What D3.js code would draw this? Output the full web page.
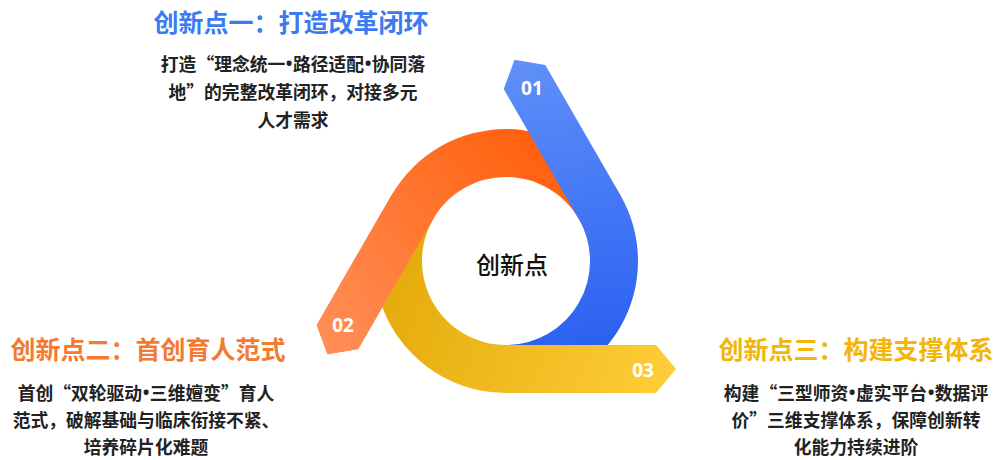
<!DOCTYPE html>
<html><head><meta charset="utf-8">
<script src="https://cdn.jsdelivr.net/npm/d3@7"></script>
<style>
html,body{margin:0;padding:0;background:#fff;}
svg{display:block;font-family:"Noto Sans CJK SC","Noto Sans",sans-serif;}
</style></head>
<body><svg id="chart" width="999" height="460"></svg>
<script>
// ---- data ----
const labels = ["01", "02", "03"];
const titles = ["创新点一：打造改革闭环", "创新点二：首创育人范式", "创新点三：构建支撑体系"];
const desc1 = ["打造“理念统一•路径适配•协同落", "地”的完整改革闭环，对接多元", "人才需求"];
const desc2 = ["首创“双轮驱动•三维嬗变”育人", "范式，破解基础与临床衔接不紧、", "培养碎片化难题"];
const desc3 = ["构建“三型师资•虚实平台•数据评", "价”三维支撑体系，保障创新转", "化能力持续进阶"];
const descriptions = [desc1, desc2, desc3];
const centerLabel = "创新点";

// ---- styles ----
const darkColors = ["#2B60F1", "#FF600E", "#E4AB0B"];
const lightColors = ["#5F90FA", "#FF8F58", "#FFCD38"];
const titleColors = ["#3B7BF1", "#F47A30", "#F2B50A"];

const svg = d3.select("#chart");
const cx = 506, cy = 261, rIn = 84, rOut = 132, L = 150, tipLen = 20;

// tangent angle (degrees) per arrow index
const angle = d3.scaleLinear().domain([0, 1, 2]).range([-30, -150, -270]);
const rad = d3.scaleLinear().domain([0, 360]).range([0, 2 * Math.PI]);

function geom(i) {
  const te = rad(angle(i));
  const ts = te + rad(120);
  const n = [Math.cos(te), Math.sin(te)];
  const d = [Math.sin(te), -Math.cos(te)];
  const P = (u, s) => [cx + n[0] * u + d[0] * s, cy + n[1] * u + d[1] * s];
  return {te, ts, n, d, P};
}

const defs = svg.append("defs");
[0, 1, 2].forEach(i => {
  const g = geom(i);
  const a = g.te + rad(90);
  const rm = (rIn + rOut) / 2;
  const start = [cx + rm * Math.cos(a), cy + rm * Math.sin(a)];
  const end = g.P(rm, L + tipLen);
  const lg = defs.append("linearGradient").attr("id", "grad" + i)
    .attr("gradientUnits", "userSpaceOnUse")
    .attr("x1", start[0]).attr("y1", start[1]).attr("x2", end[0]).attr("y2", end[1]);
  lg.append("stop").attr("offset", "0%").attr("stop-color", darkColors[i]);
  lg.append("stop").attr("offset", "100%").attr("stop-color", lightColors[i]);
});

function fullPath(i) {
  const g = geom(i);
  const p = d3.path();
  p.moveTo(cx + rOut * Math.cos(g.ts), cy + rOut * Math.sin(g.ts));
  p.arc(cx, cy, rOut, g.ts, g.te, true);
  const oc = g.P(rOut, L), tip = g.P((rIn + rOut) / 2, L + tipLen), ic = g.P(rIn, L), it = g.P(rIn, 0);
  p.lineTo(oc[0], oc[1]);
  p.lineTo(tip[0], tip[1]);
  p.lineTo(ic[0], ic[1]);
  p.lineTo(it[0], it[1]);
  p.arc(cx, cy, rIn, g.te, g.ts, false);
  p.closePath();
  return p.toString();
}
function straightPath(i) {
  const g = geom(i);
  const p = d3.path();
  const a = g.P(rOut, -2), oc = g.P(rOut, L), tip = g.P((rIn + rOut) / 2, L + tipLen), ic = g.P(rIn, L), b = g.P(rIn, -2);
  p.moveTo(a[0], a[1]); p.lineTo(oc[0], oc[1]); p.lineTo(tip[0], tip[1]);
  p.lineTo(ic[0], ic[1]); p.lineTo(b[0], b[1]); p.closePath();
  return p.toString();
}

const shapes = svg.append("g");
[1, 0, 2].forEach(i => {
  shapes.append("path").attr("d", fullPath(i)).attr("fill", `url(#grad${i})`);
});
shapes.append("path").attr("d", straightPath(1)).attr("fill", "url(#grad1)");

// number labels
labels.forEach((t, i) => {
  const g = geom(i);
  const pos = g.P((rIn + rOut) / 2 + 1, 137);
  svg.append("text").attr("x", pos[0]).attr("y", pos[1])
    .attr("text-anchor", "middle").attr("dominant-baseline", "central")
    .attr("fill", "#fff").attr("font-family", "'Open Sans','Noto Sans',sans-serif")
    .attr("font-weight", 700).attr("font-size", 19).text(t);
});

// center text
svg.append("text").attr("x", 512).attr("y", 263)
  .attr("text-anchor", "middle").attr("dominant-baseline", "central")
  .attr("fill", "#111").attr("font-size", 24).attr("font-weight", 500).text(centerLabel);

// text blocks
const blockX = [293, 146, 856];
const titleY = [21, 348, 348];
const lineY = [[63, 91, 119], [392, 419, 446], [392, 419, 446]];
titles.forEach((t, i) => {
  svg.append("text").attr("x", blockX[i] - (i === 0 ? 2 : 0) + (i === 1 ? 2 : 0)).attr("y", titleY[i])
    .attr("text-anchor", "middle").attr("dominant-baseline", "central")
    .attr("fill", titleColors[i]).attr("font-size", 25).attr("font-weight", 700).text(t);
  descriptions[i].forEach((line, j) => {
    const txt = svg.append("text").attr("x", blockX[i]).attr("y", lineY[i][j])
      .attr("text-anchor", "middle").attr("dominant-baseline", "central")
      .attr("fill", "#222").attr("font-size", 17.8).attr("font-weight", 700);
    line.split("•").forEach((part, k) => {
      if (k > 0) {
        txt.append("tspan").attr("dx", 0.5).attr("font-family", "'Noto Sans','DejaVu Sans',sans-serif").text("•");
        txt.append("tspan").attr("dx", 0.5).text(part);
      } else {
        txt.append("tspan").text(part);
      }
    });
  });
});
</script>
</body></html>
